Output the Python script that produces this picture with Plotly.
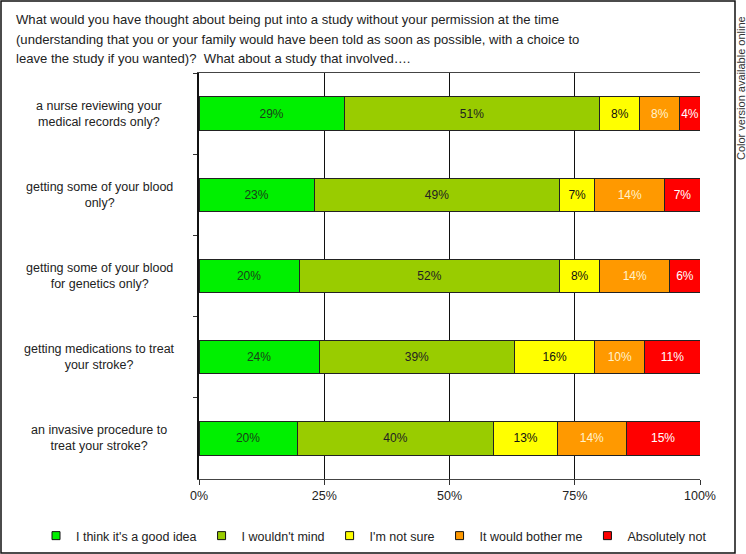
import plotly.graph_objects as go

# ---------------- data ----------------
categories = [
    "a nurse reviewing your<br>medical records only?",
    "getting some of your blood<br>only?",
    "getting some of your blood<br>for genetics only?",
    "getting medications to treat<br>your stroke?",
    "an invasive procedure to<br>treat your stroke?",
]
responses = [
    "I think it's a good idea",
    "I wouldn't mind",
    "I'm not sure",
    "It would bother me",
    "Absolutely not",
]
good_idea = [29, 23, 20, 24, 20]
wouldnt_mind = [51, 49, 52, 39, 40]
not_sure = [8, 7, 8, 16, 13]
bother_me = [8, 14, 14, 10, 14]
absolutely_not = [4, 7, 6, 11, 15]
x_tick_vals = [0, 25, 50, 75, 100]
x_tick_text = ["0%", "25%", "50%", "75%", "100%"]

title_lines = [
    "What would you have thought about being put into a study without your permission at the time",
    "(understanding that you or your family would have been told as soon as possible, with a choice to",
    "leave the study if you wanted)?  What about a study that involved\u2026.",
]
side_note = "Color version available online"

# ---------------- style ----------------
FONT = "Liberation Sans, Arial, sans-serif"
series = [good_idea, wouldnt_mind, not_sure, bother_me, absolutely_not]
colors = ["#00F000", "#99CC00", "#FFFF00", "#FF9900", "#FF0000"]
text_colors = ["#1a401a", "#222222", "#111111", "#FFF3CC", "#FFFFFF"]

W, H = 746, 554
L, R, T, B = 199, 700, 73, 479
pw, ph = R - L, B - T


def px(xp):
    return (xp - L) / pw


def py(yp):
    return (B - yp) / ph


fig = go.Figure()
for name, vals, col, tcol in zip(responses, series, colors, text_colors):
    fig.add_trace(go.Bar(
        y=categories, x=vals, name=name, orientation="h",
        marker=dict(color=col, line=dict(color="#222222", width=1)),
        text=[f"{v}%" for v in vals], textposition="inside",
        insidetextanchor="middle", textangle=0,
        textfont=dict(family=FONT, size=12, color=tcol),
        showlegend=False, legendgroup=name, hoverinfo="name+x",
    ))
    # legend entry with small square marker
    fig.add_trace(go.Scatter(
        x=[None], y=[None], mode="markers", name=name, legendgroup=name,
        marker=dict(symbol="square", size=8, color=col,
                    line=dict(color="#111111", width=1)),
        showlegend=True,
    ))

annotations = []
for i, line in enumerate(title_lines):
    annotations.append(dict(
        x=px(14), y=py(19 + 20 * i), xref="paper", yref="paper",
        xanchor="left", yanchor="middle", showarrow=False, text=line,
        font=dict(family=FONT, size=13.1, color="#222222"),
    ))
for cat in categories:
    annotations.append(dict(
        x=px(99), y=cat, xref="paper", yref="y", xanchor="center",
        yanchor="middle", showarrow=False, text=cat, align="center",
        font=dict(family=FONT, size=12.5, color="#222222"),
    ))
annotations.append(dict(
    x=px(741), y=py(88), xref="paper", yref="paper", xanchor="center",
    yanchor="middle", showarrow=False, text=side_note, textangle=-90,
    font=dict(family=FONT, size=11, color="#333333"),
))

fig.update_layout(
    width=W, height=H,
    margin=dict(l=L, r=W - R, t=T, b=H - B, pad=0, autoexpand=False),
    barmode="stack", barnorm="percent", bargap=0.59,
    paper_bgcolor="white", plot_bgcolor="white",
    font=dict(family=FONT, size=12.5, color="#222222"),
    uniformtext=dict(minsize=12, mode="show"),
    legend=dict(orientation="h", x=px(36), y=py(536), xanchor="left",
                yanchor="middle", font=dict(family=FONT, size=12.5, color="#222222"),
                itemwidth=30, traceorder="normal"),
    annotations=annotations,
    shapes=[dict(type="rect", xref="paper", yref="paper",
                 x0=px(1), x1=px(735), y0=py(553), y1=py(1),
                 line=dict(color="#111111", width=1.5), fillcolor="rgba(0,0,0,0)",
                 layer="below")],
)
fig.update_xaxes(
    range=[0, 100], tickvals=x_tick_vals, ticktext=x_tick_text,
    showgrid=True, gridcolor="#111111", gridwidth=1,
    showline=True, linecolor="#444444", linewidth=1, mirror=True,
    ticks="outside", ticklen=5, tickcolor="#333333",
    tickfont=dict(family=FONT, size=12.5, color="#222222"),
    zeroline=False, fixedrange=True,
)
fig.update_yaxes(
    autorange="reversed", showticklabels=False,
    ticks="outside", tickson="boundaries", ticklen=4, tickcolor="#333333",
    showline=True, linecolor="#111111", linewidth=1.5,
    showgrid=False, zeroline=False, fixedrange=True,
)

fig.write_html("out.html",
               config={"displayModeBar": False},
               post_script="document.body.style.margin='0';"
                           "document.body.style.overflow='hidden';")
